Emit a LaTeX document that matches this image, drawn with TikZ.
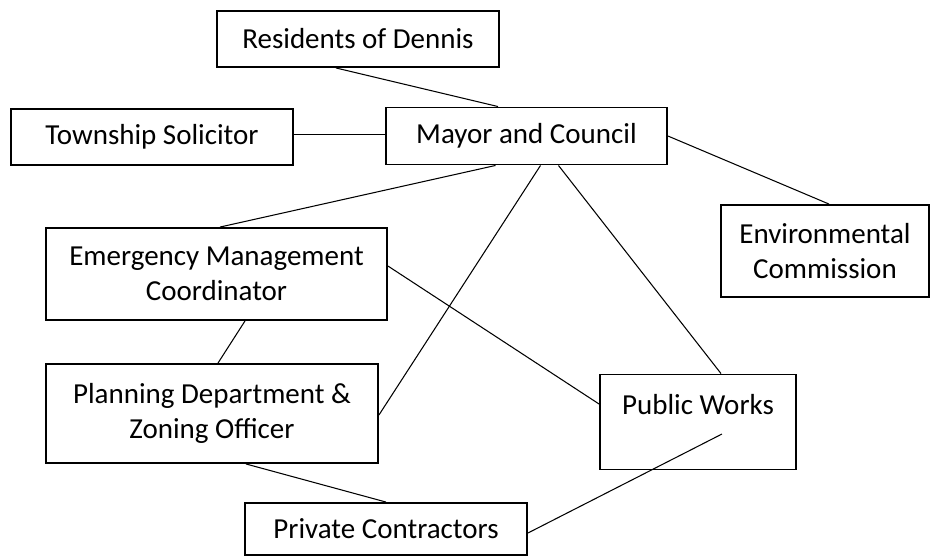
\documentclass[tikz,border=0pt]{standalone}
\usepackage{fontspec}
\setmainfont{Carlito}
\usepackage{tikz}
\usetikzlibrary{calc}

\begin{document}
\begin{tikzpicture}[x=0.02cm,y=-0.02cm,
        box/.style={draw=black,line width=1.1pt,inner sep=0pt,align=center,
            font=\fontsize{16.5}{20}\selectfont},
        link/.style={line width=0.6pt}]
        \useasboundingbox (0,0) rectangle (931,556);

        \node[box,minimum width=5.64cm,minimum height=1.12cm] (res) at (358,39) {Residents of Dennis};
        \node[box,minimum width=5.62cm,minimum height=1.14cm] (mayor) at (526.5,136) {Mayor and Council};
        \node[box,minimum width=5.64cm,minimum height=1.12cm] (sol) at (152,137) {Township Solicitor};
        \node[box,minimum width=6.82cm,minimum height=1.84cm] (em) at (216.5,274) {Emergency Management\\Coordinator};
        \node[box,minimum width=6.64cm,minimum height=1.98cm] (plan) at (212,413.5) {Planning Department \&\\Zoning Officer};
        \node[box,minimum width=4.16cm,minimum height=1.84cm] (env) at (825,251) {Environmental\\Commission};
        \node[box,minimum width=3.92cm,minimum height=1.90cm] (pw) at (698,422) {Public Works\\~};
        \node[box,minimum width=5.64cm,minimum height=1.04cm] (priv) at (386,529) {Private Contractors};

        \draw[link] ($(res.south)+(-22,0)$) -- ($(mayor.north)+(-28.5,0)$);
        \draw[link] ($(sol.east)+(0,-2.5)$) -- ($(mayor.west)+(0,-1.5)$);
        \draw[link] (mayor.east) -- ($(env.north)+(4,0)$);
        \draw[link] ($(mayor.south)+(-31,0)$) -- ($(em.north)+(3.5,0)$);
        \draw[link] ($(mayor.south)+(14,0)$) -- ($(plan.east)+(0,1.5)$);
        \draw[link] ($(mayor.south)+(32,0)$) -- ($(pw.north)+(23,0)$);
        \draw[link] ($(em.east)+(0,-8)$) -- ($(pw.west)+(0,-18)$);
        \draw[link] ($(em.south)+(28.5,0)$) -- ($(plan.north)+(6,0)$);
        \draw[link] ($(plan.south)+(34,0)$) -- (priv.north);
        \draw[link] ($(priv.east)+(0,4)$) -- ($(pw.center)+(24,12)$);
    \end{tikzpicture}
\end{document}
